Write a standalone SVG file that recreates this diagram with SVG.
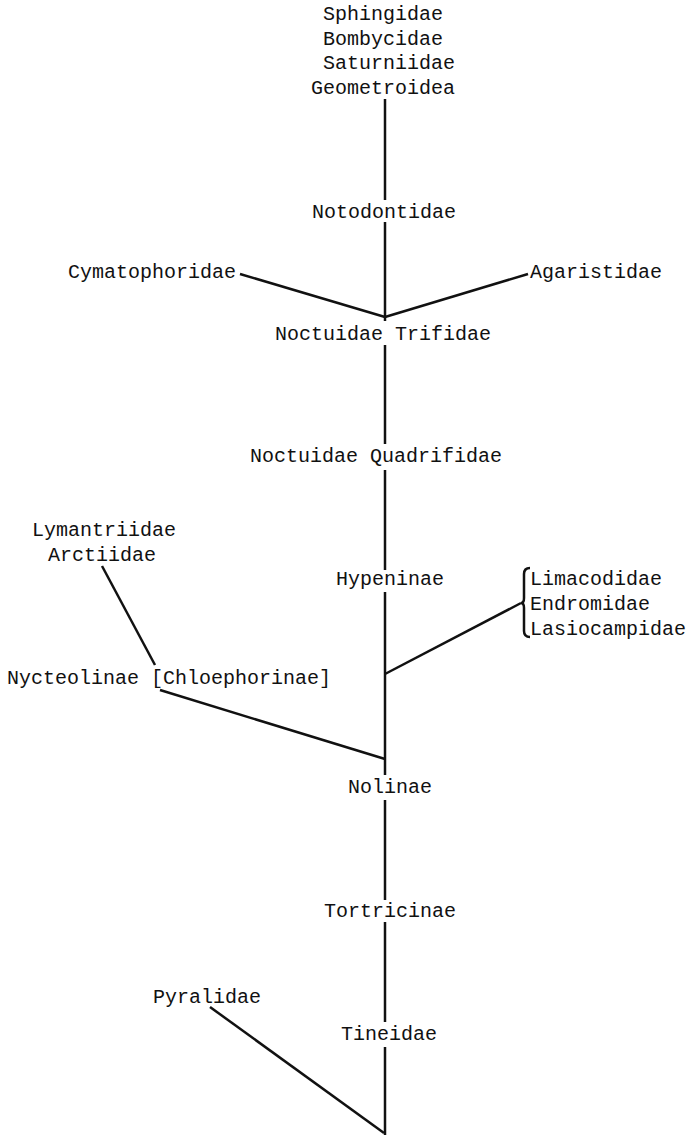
<svg xmlns="http://www.w3.org/2000/svg" width="690" height="1137" viewBox="0 0 690 1137">
<style>
.t{font-family:"Liberation Mono","DejaVu Sans Mono",monospace;font-size:20px;fill:#111;}
.c line,.c path{stroke:#111;stroke-width:2.5;fill:none;stroke-linecap:butt;}
</style>
<rect width="690" height="1137" fill="#fff"/>
<g class="c" id="connectors">
<line x1="385" y1="99" x2="385" y2="200"/>
<line x1="385" y1="222" x2="385" y2="321"/>
<line x1="385" y1="345" x2="385" y2="444"/>
<line x1="385" y1="470" x2="385" y2="570"/>
<line x1="385" y1="592" x2="385" y2="775"/>
<line x1="385" y1="800" x2="385" y2="900"/>
<line x1="385" y1="922" x2="385" y2="1022"/>
<line x1="385" y1="1047" x2="385" y2="1135"/>
<line x1="240" y1="274" x2="385" y2="317"/>
<line x1="528" y1="274" x2="385" y2="317"/>
<line x1="385" y1="674" x2="521" y2="603"/>
<path d="M530,568 Q524,568 524,574 L524,598 Q524,603 521,603 Q524,603 524,608 L524,631 Q524,637 530,637" stroke-width="2"/>
<line x1="102" y1="566" x2="155" y2="665"/>
<line x1="160" y1="690" x2="385" y2="759"/>
<line x1="210" y1="1007" x2="384" y2="1133"/>
</g>
<g id="top"><text class="t" x="323" y="20">Sphingidae</text><text class="t" x="323" y="45">Bombycidae</text><text class="t" x="323" y="69">Saturniidae</text><text class="t" x="311" y="94">Geometroidea</text></g>
<g id="notodontidae"><text class="t" x="312" y="218">Notodontidae</text></g>
<g id="cymatophoridae"><text class="t" x="68" y="278">Cymatophoridae</text></g>
<g id="agaristidae"><text class="t" x="530" y="278">Agaristidae</text></g>
<g id="trifidae"><text class="t" x="275" y="340">Noctuidae Trifidae</text></g>
<g id="quadrifidae"><text class="t" x="250" y="462">Noctuidae Quadrifidae</text></g>
<g id="hypeninae"><text class="t" x="336" y="585">Hypeninae</text></g>
<g id="limacodidae"><text class="t" x="530" y="585">Limacodidae</text><text class="t" x="530" y="610">Endromidae</text><text class="t" x="530" y="635">Lasiocampidae</text></g>
<g id="lymantriidae"><text class="t" x="32" y="536">Lymantriidae</text><text class="t" x="48" y="561">Arctiidae</text></g>
<g id="nycteolinae"><text class="t" x="7" y="684">Nycteolinae [Chloephorinae]</text></g>
<g id="nolinae"><text class="t" x="348" y="793">Nolinae</text></g>
<g id="tortricinae"><text class="t" x="324" y="917">Tortricinae</text></g>
<g id="pyralidae"><text class="t" x="153" y="1003">Pyralidae</text></g>
<g id="tineidae"><text class="t" x="341" y="1040">Tineidae</text></g>
</svg>
